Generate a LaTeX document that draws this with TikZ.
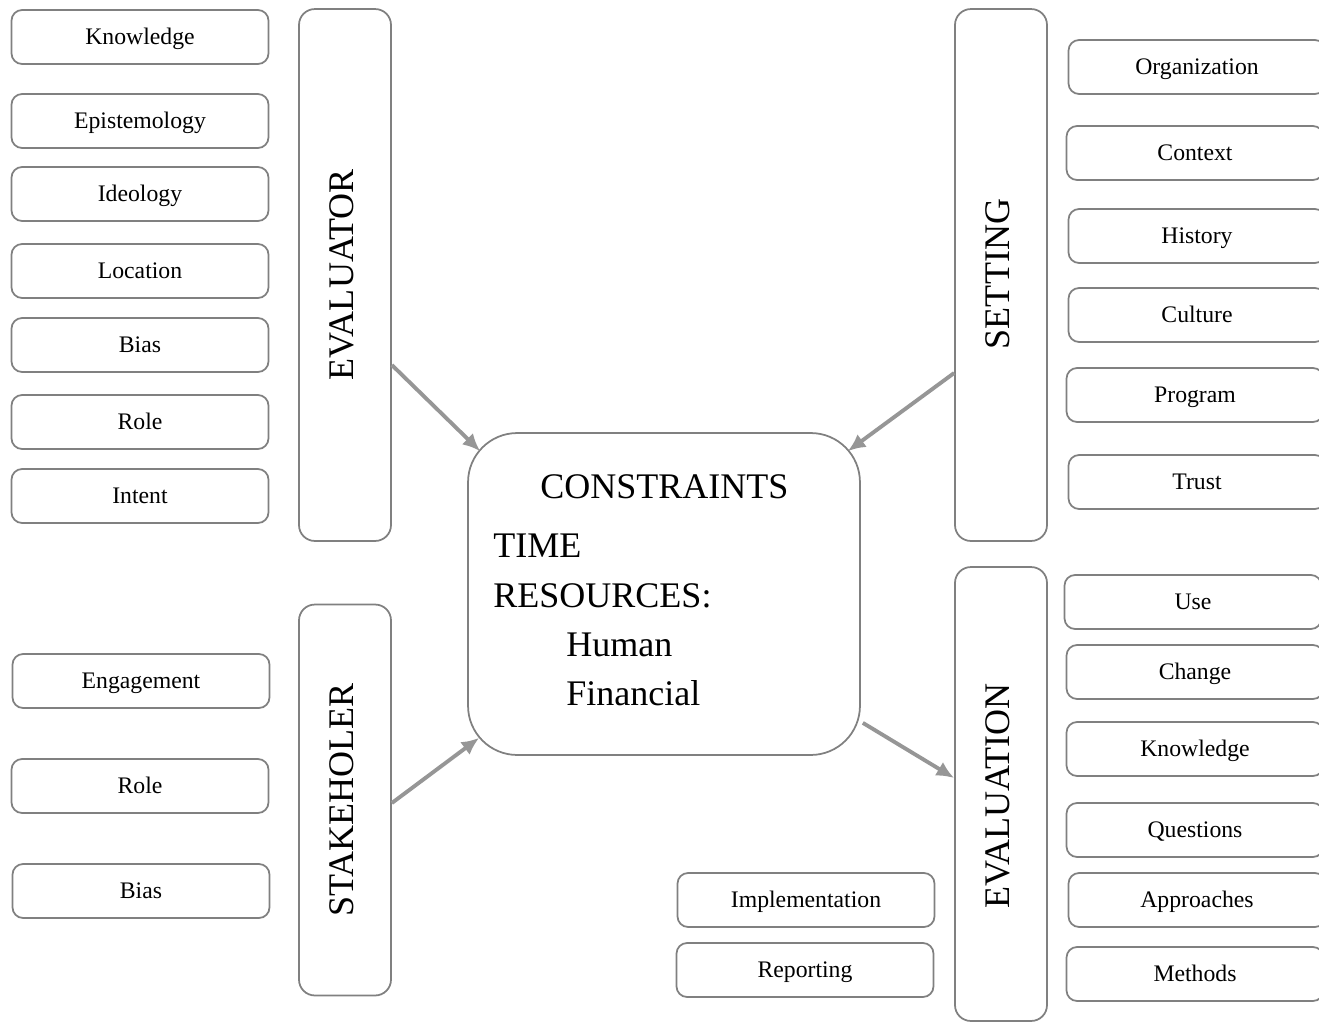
\documentclass[tikz,border=0pt]{standalone}
\usepackage{fontspec}
\setmainfont{Liberation Serif}
\usetikzlibrary{arrows.meta,calc}
\definecolor{bord}{RGB}{128,128,128}
\definecolor{arr}{RGB}{150,150,150}
\tikzset{
  item/.style={draw=bord,line width=1pt,rounded corners=6pt,minimum width=5.14cm,minimum height=1.08cm,inner sep=0pt,text height=9.5pt,text depth=1.5pt,font=\fontsize{13.5}{16}\selectfont},
  tall/.style={draw=bord,line width=1pt,rounded corners=9pt,minimum width=1.84cm,inner sep=0pt},
  tallt/.style={rotate=90,font=\fontsize{20.5}{24}\selectfont,inner sep=0pt},
  big/.style={draw=bord,line width=1pt,rounded corners=28pt,minimum width=7.84cm,minimum height=6.44cm,inner sep=0pt},
  ctext/.style={anchor=base west,inner sep=0pt,font=\fontsize{20.5}{24}\selectfont},
  conn/.style={draw=arr,line width=2.2pt,-{Latex[length=10pt,width=9pt]}}
}
\begin{document}
\begin{tikzpicture}[x=0.02cm,y=-0.02cm]
\useasboundingbox (0,0) rectangle (1319,1022);
\clip (0,0) rectangle (1319,1022);
% left items
\node[item] (k1) at (140,37) {Knowledge};
\node[item] (k2) at (140,121) {Epistemology};
\node[item] (k3) at (140,194) {Ideology};
\node[item] (k4) at (140,271) {Location};
\node[item] (k5) at (140,345) {Bias};
\node[item] (k6) at (140,422) {Role};
\node[item] (k7) at (140,496) {Intent};
\node[item] (s1) at (141,681) {Engagement};
\node[item] (s2) at (140,786) {Role};
\node[item] (s3) at (141,891) {Bias};
% right items
\node[item] (r1) at (1197,67) {Organization};
\node[item] (r2) at (1195,153) {Context};
\node[item] (r3) at (1197,236) {History};
\node[item] (r4) at (1197,315) {Culture};
\node[item] (r5) at (1195,395) {Program};
\node[item] (r6) at (1197,482) {Trust};
\node[item] (e1) at (1193,602) {Use};
\node[item] (e2) at (1195,672) {Change};
\node[item] (e3) at (1195,749) {Knowledge};
\node[item] (e4) at (1195,830) {Questions};
\node[item] (e5) at (1197,900) {Approaches};
\node[item] (e6) at (1195,974) {Methods};
% bottom middle
\node[item] (im) at (806,900) {Implementation};
\node[item] (rp) at (805,970) {Reporting};
% tall boxes
\node[tall,minimum height=10.64cm] (ev) at (345,275) {};
\node[tallt] (evt) at (342,275) {EVALUATOR};
\node[tall,minimum height=10.64cm] (se) at (1001,275) {};
\node[tallt] (set) at (998,274) {SETTING};
\node[tall,minimum height=7.82cm] (st) at (345,800) {};
\node[tallt] (stt) at (342,800) {STAKEHOLER};
\node[tall,minimum height=9.08cm] (en) at (1001,794) {};
\node[tallt] (ent) at (998,796) {EVALUATION};
% center
\node[big] (c) at (664,594) {};
\node[ctext] (t1) at (540,498) {CONSTRAINTS};
\node[ctext] (t2) at (493,557) {TIME};
\node[ctext] (t3) at (493,607) {RESOURCES:};
\node[ctext] (t4) at (566,656) {Human};
\node[ctext] (t5) at (566,705) {Financial};
% connector points
\coordinate (a1) at ($(ev.east)+(0,90)$);
\coordinate (b1) at ($(c.north west)+(13,19)$);
\coordinate (a2) at ($(se.west)+(0,98)$);
\coordinate (b2) at ($(c.north east)+(-13,19)$);
\coordinate (a3) at ($(st.east)+(0,3)$);
\coordinate (b3) at ($(c.south west)+(12,-18)$);
\coordinate (a4) at ($(c.south east)+(2,-33)$);
\coordinate (b4) at ($(en.west)+(0,-16)$);
\draw[conn] (a1) -- (b1);
\draw[conn] (a2) -- (b2);
\draw[conn] (a3) -- (b3);
\draw[conn] (a4) -- (b4);
\end{tikzpicture}
\end{document}
